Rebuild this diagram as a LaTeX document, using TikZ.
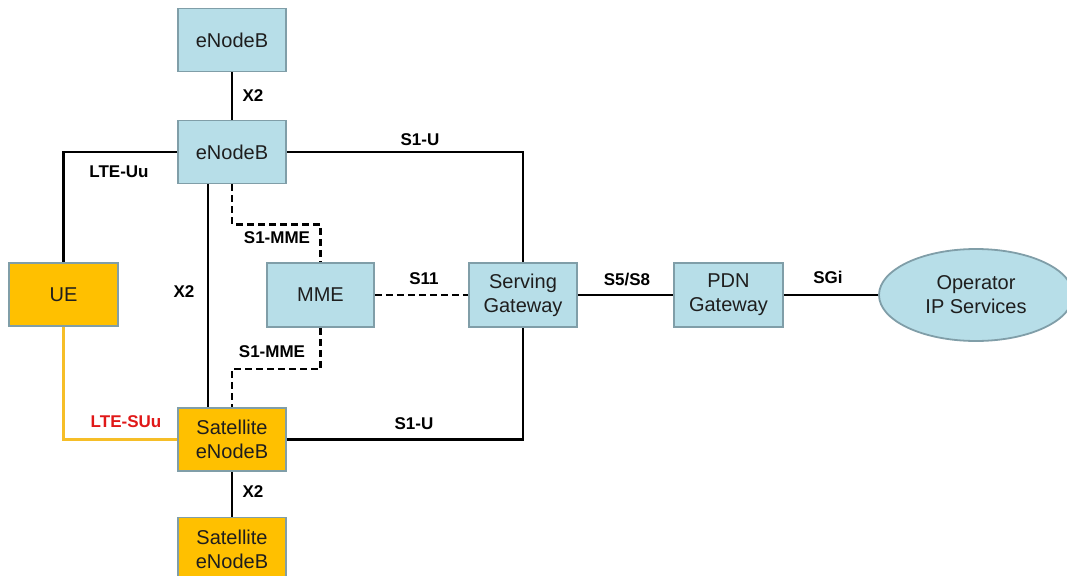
\documentclass[tikz,border=0pt]{standalone}
\usepackage{fontspec}
\setmainfont{Liberation Sans}
\usetikzlibrary{shapes.geometric}
\definecolor{boxblue}{RGB}{183,222,232}
\definecolor{boxorange}{RGB}{255,192,0}
\definecolor{boxedge}{RGB}{128,158,168}
\definecolor{suuline}{RGB}{246,190,40}
\definecolor{suured}{RGB}{224,24,24}
\definecolor{boxtext}{RGB}{30,30,30}
\tikzset{
  bluebox/.style={draw=boxedge, line width=1.8pt, fill=boxblue, minimum width=108pt, minimum height=63pt, inner sep=0pt, align=center, text=boxtext, font=\fontsize{20}{24}\selectfont},
  orangebox/.style={bluebox, fill=boxorange},
  cloudell/.style={ellipse, draw=boxedge, line width=1.8pt, fill=boxblue, minimum width=194pt, minimum height=92pt, inner sep=0pt, align=center, text=boxtext, font=\fontsize{20}{24}\selectfont},
  link/.style={line width=2.7pt, black},
  dlink/.style={link, dash pattern=on 7pt off 4pt},
  suulink/.style={line width=2.7pt, suuline},
  lbl/.style={font=\bfseries\fontsize{17}{19}\selectfont, inner sep=0pt},
}
\begin{document}
\begin{tikzpicture}[x=1pt, y=-1pt]
\useasboundingbox (0,0) rectangle (1067,575);
% nodes
\node[bluebox] (enbtop) at (232,40) {eNodeB};
\node[bluebox] (enb) at (232,152) {eNodeB};
\node[orangebox, minimum width=109pt] (ue) at (63.5,294.5) {UE};
\node[bluebox, minimum width=107pt, minimum height=64pt] (mme) at (320.5,295) {MME};
\node[bluebox, minimum height=64pt] (sgw) at (523,295) {Serving\\Gateway};
\node[bluebox, minimum width=109pt, minimum height=64pt] (pdn) at (728.5,295) {PDN\\Gateway};
\node[cloudell] (ops) at (976,295) {Operator\\IP Services};
\node[orangebox] (sat1) at (232,439.5) {Satellite\\eNodeB};
\node[orangebox] (sat2) at (232,549) {Satellite\\eNodeB};
% connectors
\draw[link] (enbtop.south) -- (enb.north);
\draw[link] (enb.west) -| (ue.north);
\draw[link] (enb.east) -| (sgw.north);
\draw[link] ([xshift=-24pt]enb.south) -- ([xshift=-24pt]sat1.north);
\draw[dlink] (enb.south) -- ++(0,40) -| (mme.north);
\draw[dlink] (mme.south) -- ++(0,41) -| (sat1.north);
\draw[dlink] (mme.east) -- (sgw.west);
\draw[link] (sat1.east) -| (sgw.south);
\draw[link] (sgw.east) -- (pdn.west);
\draw[link] (pdn.east) -- (ops.west);
\draw[suulink] (ue.south) |- (sat1.west);
\draw[link] (sat1.south) -- (sat2.north);
% labels
\node[lbl] (lx2a) at (253,96) {X2};
\node[lbl] (lltu) at (119,172) {LTE-Uu};
\node[lbl] (ls1ua) at (420,140) {S1-U};
\node[lbl] (lx2b) at (184,292) {X2};
\node[lbl] (ls1ma) at (277,238) {S1-MME};
\node[lbl] (ls1mb) at (272,352) {S1-MME};
\node[lbl] (ls11) at (424,279) {S11};
\node[lbl] (ls5) at (627,280) {S5/S8};
\node[lbl] (lsgi) at (828,277) {SGi};
\node[lbl] (ls1ub) at (414,424) {S1-U};
\node[lbl, text=suured] (lsuu) at (126,422) {LTE-SUu};
\node[lbl] (lx2c) at (253,492) {X2};
\end{tikzpicture}
\end{document}
